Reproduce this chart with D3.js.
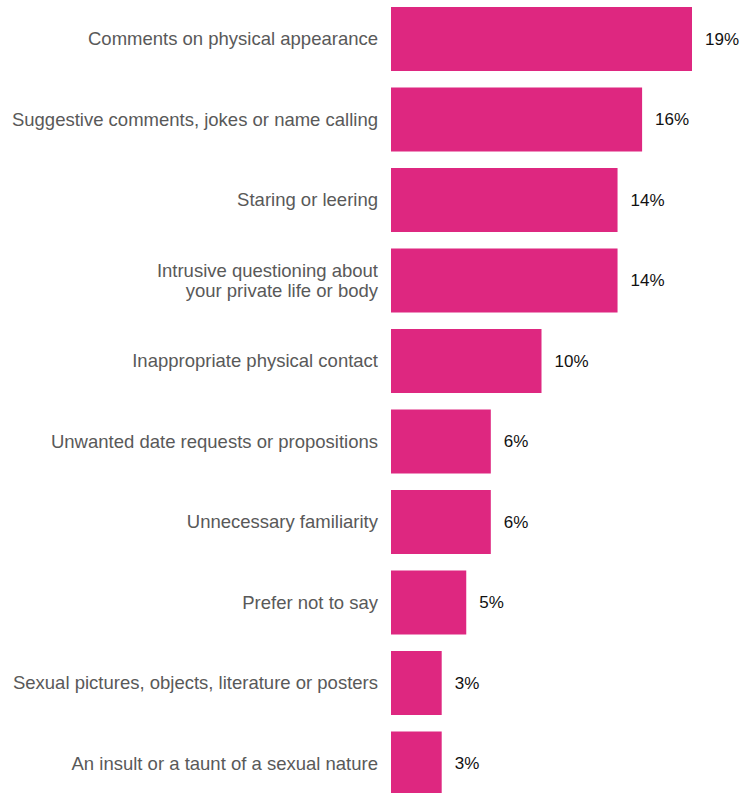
<!DOCTYPE html>
<html><head><meta charset="utf-8">
<script src="https://cdn.jsdelivr.net/npm/d3@7"></script>
<style>body{margin:0;background:#fff;}svg{display:block;}</style>
</head><body>
<svg id="chart" width="742" height="793"></svg>
<script>
const categories = [
  "Comments on physical appearance",
  "Suggestive comments, jokes or name calling",
  "Staring or leering",
  "Intrusive questioning about\nyour private life or body",
  "Inappropriate physical contact",
  "Unwanted date requests or propositions",
  "Unnecessary familiarity",
  "Prefer not to say",
  "Sexual pictures, objects, literature or posters",
  "An insult or a taunt of a sexual nature"
];
const values = [19, 15.85, 14.3, 14.3, 9.5, 6.3, 6.3, 4.75, 3.2, 3.2];
const valueLabels = ["19%", "16%", "14%", "14%", "10%", "6%", "6%", "5%", "3%", "3%"];

const svg = d3.select("#chart");
const x0 = 391;
const x = d3.scaleLinear().domain([0, 19]).range([x0, 692]);
const step = 80.5, gap = 16.5;
const y = d3.scaleBand().domain(d3.range(categories.length))
  .range([7, 7 + step * categories.length - gap])
  .paddingInner(gap / step).paddingOuter(0);

const g = svg.append("g");
g.selectAll("rect").data(values).join("rect")
  .attr("x", x(0))
  .attr("y", (d, i) => y(i))
  .attr("width", d => x(d) - x(0))
  .attr("height", y.bandwidth())
  .attr("fill", "#de2780");

g.selectAll("text.val").data(values).join("text")
  .attr("class", "val")
  .attr("x", d => x(d) + 13)
  .attr("y", (d, i) => y(i) + y.bandwidth()/2)
  .attr("dy", "0.35em")
  .attr("font-family", "Liberation Sans, Arial, sans-serif")
  .attr("font-size", 17)
  .attr("fill", "#111")
  .text((d, i) => valueLabels[i]);

const lab = g.selectAll("text.cat").data(categories).join("text")
  .attr("class", "cat")
  .attr("text-anchor", "end")
  .attr("font-family", "Liberation Sans, Arial, sans-serif")
  .attr("font-size", 18.5)
  .attr("fill", "#595959");
lab.each(function(d, i) {
  const lines = d.split("\n");
  const t = d3.select(this);
  const cy = y(i) + y.bandwidth()/2;
  const lh = 20.5;
  lines.forEach((ln, k) => {
    t.append("tspan").attr("x", x0 - 13)
      .attr("y", cy + (k - (lines.length - 1)/2) * lh)
      .attr("dy", "0.35em").text(ln);
  });
});
</script>
</body></html>
